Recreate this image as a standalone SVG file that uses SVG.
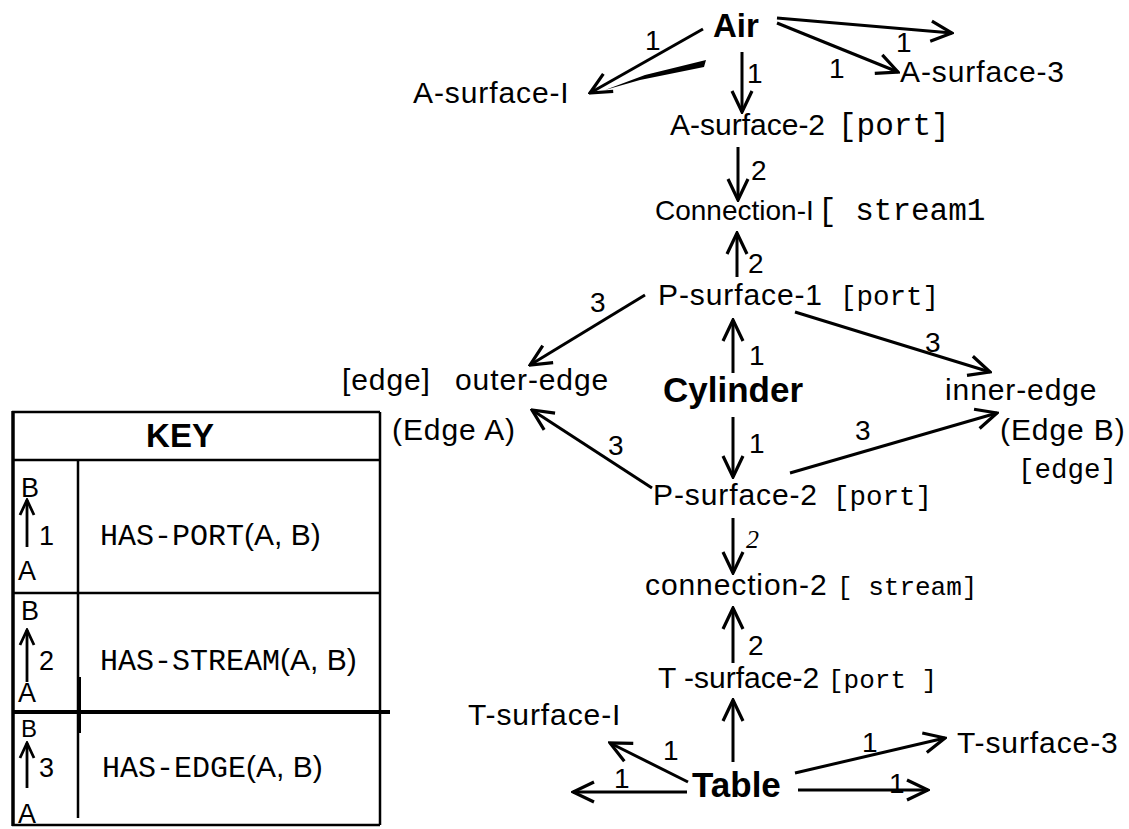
<svg xmlns="http://www.w3.org/2000/svg" width="1129" height="829" viewBox="0 0 1129 829">
<style>
text{fill:#000}
.s{font-family:"Liberation Sans",Arial,sans-serif;font-size:30px;letter-spacing:0.9px}
.t{letter-spacing:0}
.b{font-family:"Liberation Sans",Arial,sans-serif;font-weight:bold}
.m{font-family:"Liberation Mono","Courier New",monospace;font-size:27.5px;letter-spacing:0}
.n{font-family:"Liberation Sans",Arial,sans-serif;font-size:28px}
.e{stroke:#000;stroke-width:3;fill:none;marker-end:url(#arr)}
.k{stroke:#000;stroke-width:2.5;fill:none}
</style>
<defs>
<marker id="arr" markerUnits="userSpaceOnUse" markerWidth="26" markerHeight="24" viewBox="0 0 26 24" refX="24" refY="12" orient="auto">
<path d="M3,2 L24,12 L3,22" fill="none" stroke="#000" stroke-width="3.2" stroke-linejoin="miter"/>
</marker>
<marker id="arrk" markerUnits="userSpaceOnUse" markerWidth="20" markerHeight="20" viewBox="0 0 20 20" refX="18" refY="10" orient="auto">
<path d="M3,3 L18,10 L3,17" fill="none" stroke="#000" stroke-width="2.8"/>
</marker>
</defs>

<g id="connectors">
<line class="e" x1="703" y1="29" x2="590" y2="93"/>
<polygon points="706,60 704,67 640,80 605,90 645,75" fill="#000"/>
<line class="e" x1="777" y1="18" x2="952" y2="33"/>
<line class="e" x1="777" y1="23" x2="898" y2="72"/>
<line class="e" x1="742" y1="52" x2="742" y2="112"/>
<line class="e" x1="738" y1="147" x2="738" y2="200"/>
<line class="e" x1="737" y1="277" x2="737" y2="233"/>
<line class="e" x1="645" y1="295" x2="530" y2="365"/>
<line class="e" x1="795" y1="312" x2="990" y2="372"/>
<line class="e" x1="733" y1="373" x2="733" y2="320"/>
<line class="e" x1="733" y1="417" x2="733" y2="477"/>
<line class="e" x1="652" y1="488" x2="532" y2="410"/>
<line class="e" x1="790" y1="473" x2="997" y2="413"/>
<line class="e" x1="733" y1="518" x2="733" y2="573"/>
<line class="e" x1="733" y1="663" x2="733" y2="608"/>
<line class="e" x1="733" y1="762" x2="733" y2="700"/>
<line class="e" x1="688" y1="782" x2="610" y2="743"/>
<line class="e" x1="687" y1="792" x2="573" y2="792"/>
<line class="e" x1="795" y1="773" x2="945" y2="738"/>
<line class="e" x1="798" y1="790" x2="928" y2="790"/>
</g>

<g id="edge-labels" class="n">
<text x="645" y="50">1</text>
<text x="896" y="52">1</text>
<text x="829" y="78">1</text>
<text x="747" y="83">1</text>
<text x="751" y="180">2</text>
<text x="748" y="273">2</text>
<text x="590" y="312">3</text>
<text x="925" y="352">3</text>
<text x="749" y="365">1</text>
<text x="749" y="453">1</text>
<text x="608" y="455">3</text>
<text x="855" y="440">3</text>
<text x="746" y="548" style="font-family:'Liberation Serif',serif;font-style:italic;font-size:26px">2</text>
<text x="748" y="655">2</text>
<text x="663" y="760">1</text>
<text x="614" y="788">1</text>
<text x="862" y="752">1</text>
<text x="889" y="793">1</text>
</g>

<g id="node-air"><text class="b" x="713" y="37" font-size="33">Air</text></g>
<g id="node-a-surface-1"><text class="s" x="413" y="103">A-surface-I</text></g>
<g id="node-a-surface-3"><text class="s" x="900" y="82">A-surface-3</text></g>
<g id="node-a-surface-2"><text class="s t" x="670" y="135">A-surface-2</text><text class="m" x="838" y="135" style="font-size:31px">[port]</text></g>
<g id="node-connection-1"><text class="s t" x="655" y="220" style="font-size:28px">Connection-I</text><text class="m" x="818" y="220" style="font-size:31px">[ stream1</text></g>
<g id="node-p-surface-1"><text class="s" x="658" y="305">P-surface-1</text><text class="m" x="840" y="305">[port]</text></g>
<g id="node-outer-edge"><text class="s" x="342" y="390">[edge]</text><text class="s" x="455" y="390">outer-edge</text><text class="s" x="392" y="440">(Edge A)</text></g>
<g id="node-cylinder"><text class="b" x="663" y="402" font-size="35">Cylinder</text></g>
<g id="node-inner-edge"><text class="s" x="945" y="400">inner-edge</text><text class="s" x="1000" y="440">(Edge B)</text><text class="m" x="1018" y="478">[edge]</text></g>
<g id="node-p-surface-2"><text class="s" x="653" y="505">P-surface-2</text><text class="m" x="833" y="505">[port]</text></g>
<g id="node-connection-2"><text class="s" x="645" y="595">connection-2</text><text class="m" x="837" y="595" style="font-size:26px">[ stream]</text></g>
<g id="node-t-surface-2"><text class="s t" x="658" y="688">T -surface-2</text><text class="m" x="828" y="688" style="font-size:26px">[port ]</text></g>
<g id="node-t-surface-1"><text class="s" x="468" y="725">T-surface-I</text></g>
<g id="node-t-surface-3"><text class="s" x="957" y="753">T-surface-3</text></g>
<g id="node-table"><text class="b" x="692" y="797" font-size="35">Table</text></g>

<g id="key">
<line class="k" x1="12" y1="412" x2="380" y2="412"/>
<line x1="13" y1="411" x2="13" y2="826" stroke="#000" stroke-width="3.5"/>
<line class="k" x1="380" y1="412" x2="380" y2="825"/>
<line class="k" x1="12" y1="825" x2="380" y2="825"/>
<line class="k" x1="12" y1="460" x2="380" y2="460"/>
<line class="k" x1="78" y1="460" x2="78" y2="818"/>
<line x1="79" y1="677" x2="79" y2="733" stroke="#000" stroke-width="4"/>
<line class="k" x1="12" y1="593" x2="380" y2="593"/>
<line x1="12" y1="712" x2="390" y2="712" stroke="#000" stroke-width="4"/>
<text class="b" x="180" y="447" font-size="33" text-anchor="middle">KEY</text>
<g class="n" style="font-size:27px">
<text x="21" y="497">B</text>
<text x="39" y="545">1</text>
<text x="18" y="580">A</text>
<text x="21" y="620">B</text>
<text x="39" y="670">2</text>
<text x="18" y="702">A</text>
<text x="21" y="737" style="font-size:24px">B</text>
<text x="39" y="777">3</text>
<text x="18" y="823">A</text>
</g>
<line x1="27" y1="547" x2="27" y2="500" stroke="#000" stroke-width="2.8" marker-end="url(#arrk)"/>
<line x1="27" y1="682" x2="27" y2="630" stroke="#000" stroke-width="2.8" marker-end="url(#arrk)"/>
<line x1="27" y1="788" x2="27" y2="743" stroke="#000" stroke-width="2.8" marker-end="url(#arrk)"/>
<text x="100" y="545"><tspan class="m" style="font-size:30px">HAS-PORT</tspan><tspan class="s t">(A, B)</tspan></text>
<text x="100" y="670"><tspan class="m" style="font-size:30px">HAS-STREAM</tspan><tspan class="s t">(A, B)</tspan></text>
<text x="102" y="777"><tspan class="m" style="font-size:30px">HAS-EDGE</tspan><tspan class="s t">(A, B)</tspan></text>
</g>
</svg>
